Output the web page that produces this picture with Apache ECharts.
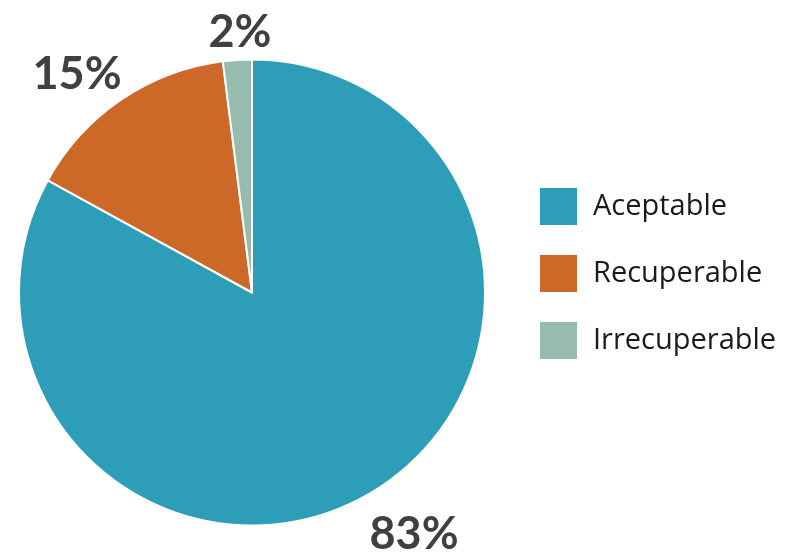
<!DOCTYPE html>
<html><head><meta charset="utf-8">
<script src="https://cdn.jsdelivr.net/npm/echarts@6/dist/echarts.min.js"></script>
<style>html,body{margin:0;padding:0;background:#fff}#c{width:789px;height:553px}</style>
</head><body><div id="c"></div>
<script>
const categories = ['Aceptable', 'Recuperable', 'Irrecuperable'];
const values = [83, 15, 2];
const colors = ['#2E9EB8', '#CC6828', '#98BBAF'];

const labelPos = [[414, 534], [77, 74], [240, 32]];
const chart = echarts.init(document.getElementById('c'));
chart.setOption({
  animation: false,
  legend: {
    orient: 'vertical', left: 538, top: 186, padding: 0,
    itemWidth: 39, itemHeight: 39, itemGap: 26,
    icon: 'rect',
    textStyle: { fontFamily: 'Open Sans', fontSize: 29, color: '#1a1a1a', padding: [0, 0, 0, 10] },
    data: categories
  },
  series: [{
    type: 'pie',
    center: [252, 292.5], radius: 233,
    startAngle: 90, clockwise: true,
    itemStyle: { borderColor: '#fff', borderWidth: 2 },
    label: {
      show: true, position: 'outside', formatter: '{d}%', overflow: 'none', width: 200,
      fontFamily: 'Lato', fontWeight: 'bold', fontSize: 45, color: '#404040'
    },
    labelLine: { show: false },
    labelLayout: function (p) {
      const pos = labelPos[p.dataIndex];
      return { x: pos[0], y: pos[1], align: 'center', verticalAlign: 'middle' };
    },
    data: categories.map((n, i) => ({ name: n, value: values[i], itemStyle: { color: colors[i] } }))
  }]
});
</script></body></html>
